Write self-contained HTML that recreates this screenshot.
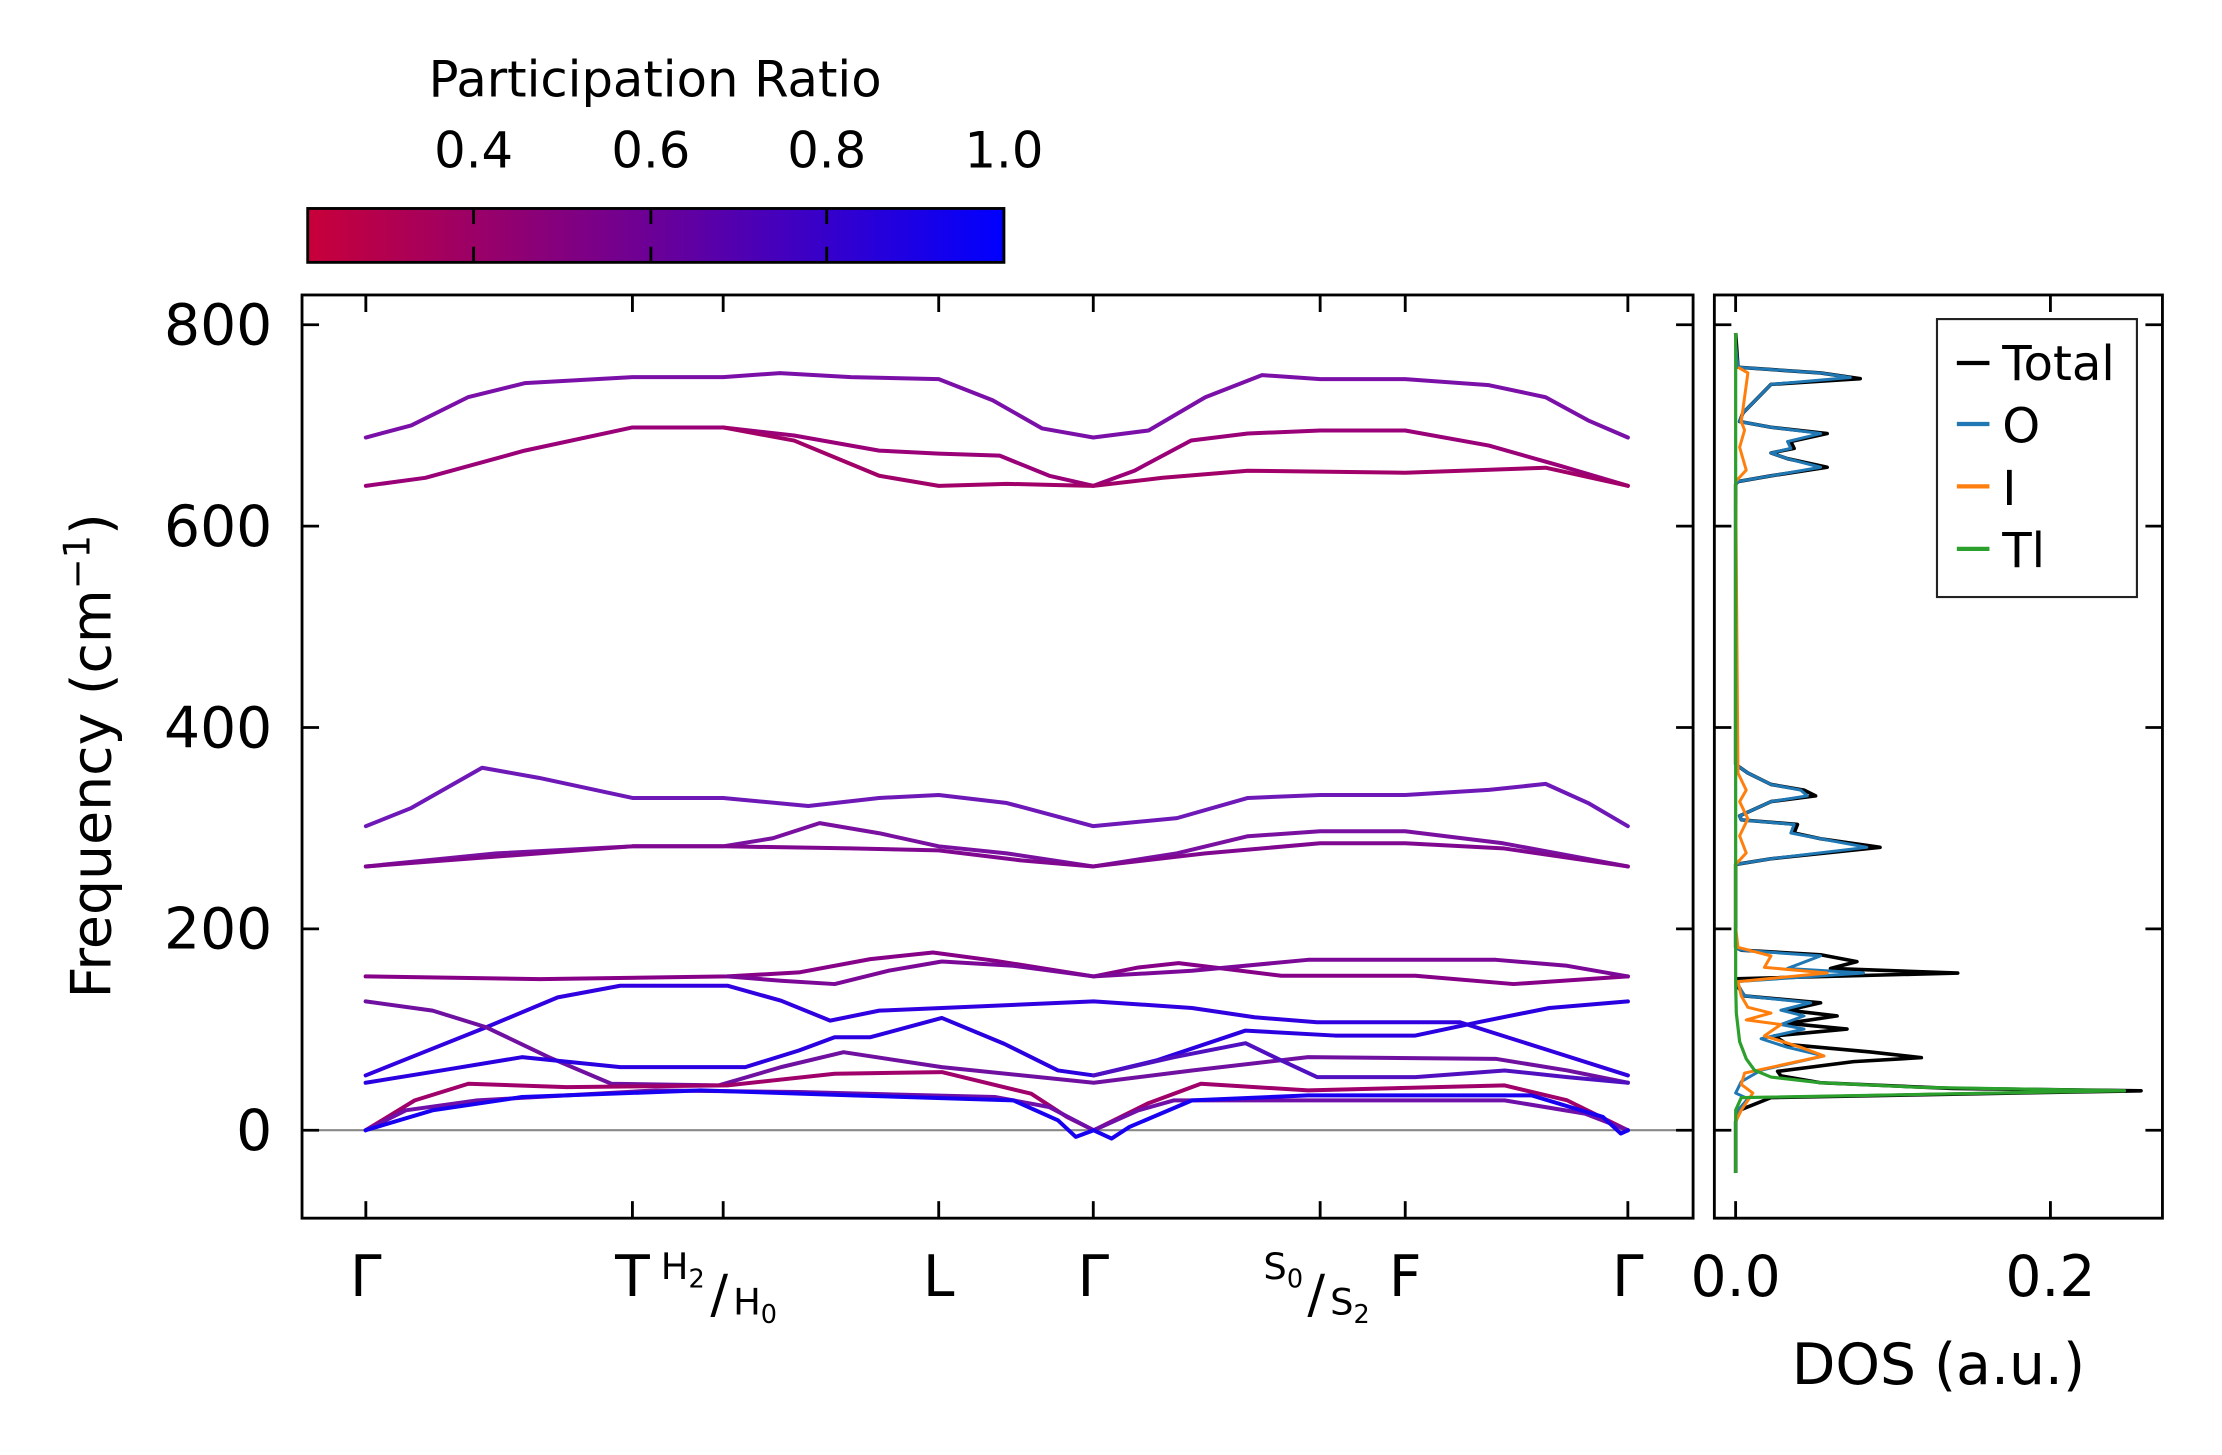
<!DOCTYPE html>
<html><head><meta charset="utf-8"><style>
html,body{margin:0;padding:0;background:#fff;}
svg{display:block;}
text{font-family:"DejaVu Sans","Liberation Sans",sans-serif;fill:#000;}
</style></head><body>
<svg width="2222" height="1455" viewBox="0 0 1567 1026" preserveAspectRatio="none" xmlns="http://www.w3.org/2000/svg">
<defs>
<linearGradient id="cb" x1="0" x2="1" y1="0" y2="0">
<stop offset="0" stop-color="#c8003a"/><stop offset="0.5" stop-color="#6a0098"/><stop offset="1" stop-color="#0000ff"/>
</linearGradient>
</defs>
<rect width="1567" height="1026" fill="#fff"/>

<!-- colorbar -->
<text x="462" y="68" font-size="35" text-anchor="middle">Participation Ratio</text>
<g font-size="35" text-anchor="middle">
<text x="334" y="118">0.4</text><text x="459" y="118">0.6</text><text x="583" y="118">0.8</text><text x="708" y="118">1.0</text>
</g>
<rect x="217" y="147" width="491" height="38" fill="url(#cb)" stroke="#000" stroke-width="2"/>
<g stroke="#000" stroke-width="2"><line x1="334" y1="147" x2="334" y2="158"/><line x1="334" y1="174" x2="334" y2="185"/>
<line x1="459" y1="147" x2="459" y2="158"/><line x1="459" y1="174" x2="459" y2="185"/>
<line x1="583" y1="147" x2="583" y2="158"/><line x1="583" y1="174" x2="583" y2="185"/></g>

<!-- main axes -->
<line x1="213" y1="797" x2="1194" y2="797" stroke="#888" stroke-width="1.5"/>
<g fill="none" stroke-width="4" stroke-linejoin="round" stroke-linecap="round">
<g transform="matrix(1 0 0 -0.71 0 797)">
<polyline vector-effect="non-scaling-stroke" stroke="#7a10a8" points="258,688 290,700 330,728 370,742 446,748 510,748 550,752 600,748 662,746 700,725 735,697 771,688 810,695 850,728 890,750 931,746 991,746 1050,740 1090,728 1120,705 1148,688"/>
<polyline vector-effect="non-scaling-stroke" stroke="#9a0078" points="258,640 300,648 370,675 446,698 510,698 560,690 620,675 662,672 705,670 740,650 771,640 800,655 840,685 880,692 931,695 991,695 1050,680 1100,660 1148,640"/>
<polyline vector-effect="non-scaling-stroke" stroke="#a00068" points="510,698 560,685 620,650 662,640 710,642 740,641 771,640 820,648 880,655 991,653 1090,658 1148,640"/>
<polyline vector-effect="non-scaling-stroke" stroke="#6e18b8" points="258,302 290,320 340,360 380,350 446,330 510,330 570,322 620,330 662,333 710,325 771,302 830,310 880,330 931,333 991,333 1050,338 1090,344 1120,325 1148,302"/>
<polyline vector-effect="non-scaling-stroke" stroke="#7a10a0" points="258,262 350,275 446,282 510,282 545,290 578,305 620,295 662,282 710,275 771,262 830,275 880,292 931,297 991,297 1060,285 1148,262"/>
<polyline vector-effect="non-scaling-stroke" stroke="#800890" points="258,262 446,282 510,282 600,280 662,278 720,268 771,262 850,275 931,285 991,285 1060,280 1148,262"/>
</g>
<g transform="matrix(0.63 0 0 0.2343 210.6 649.4)">
<polyline vector-effect="non-scaling-stroke" stroke="#860088" points="75,167 270,175 480,167 560,155 640,115 710,95 780,120 890,167 940,140 985,127 1040,145 1100,165 1250,165 1360,190 1488,167"/>
<polyline vector-effect="non-scaling-stroke" stroke="#7c0898" points="480,167 540,180 600,190 660,150 720,122 800,135 890,167 1000,150 1130,117 1340,117 1420,135 1488,167"/>
<polyline vector-effect="non-scaling-stroke" stroke="#3000e0" points="75,465 140,395 210,320 290,230 360,195 480,195 540,240 595,300 650,270 720,262 890,242 1000,262 1070,290 1140,305 1300,305 1400,390 1488,465"/>
<polyline vector-effect="non-scaling-stroke" stroke="#7010a0" points="75,242 150,270 210,320 280,410 350,490 470,495 540,440 610,395 720,440 890,487 1000,450 1130,410 1340,415 1420,450 1488,487"/>
<polyline vector-effect="non-scaling-stroke" stroke="#2a00e0" points="75,487 160,450 250,410 360,440 500,440 560,390 600,350 640,350 720,292 790,370 850,450 890,465 960,420 1060,330 1160,345 1250,345 1320,305 1400,262 1488,242"/>
<polyline vector-effect="non-scaling-stroke" stroke="#5010c0" points="890,465 980,410 1060,368 1100,420 1140,470 1250,470 1350,450 1420,470 1488,487"/>
<polyline vector-effect="non-scaling-stroke" stroke="#a0006a" points="75,630 130,540 190,490 300,500 480,495 600,460 720,455 820,520 860,590 890,630 950,550 1010,490 1130,510 1350,495 1420,540 1488,630"/>
<polyline vector-effect="non-scaling-stroke" stroke="#7010a8" points="75,630 120,570 200,540 400,510 560,515 780,530 840,560 890,630 940,570 980,540 1130,540 1350,540 1440,580 1488,630"/>
<polyline vector-effect="non-scaling-stroke" stroke="#1800f0" points="75,630 150,570 250,530 450,510 620,525 800,540 850,600 870,650 890,630 910,655 930,620 1000,540 1130,525 1380,525 1460,590 1480,640 1488,630"/>
</g>
</g>
<rect x="213" y="208" width="981" height="651" fill="none" stroke="#000" stroke-width="2"/>
<g stroke="#000" stroke-width="2">
<line x1="213" y1="229" x2="225" y2="229"/><line x1="213" y1="371" x2="225" y2="371"/><line x1="213" y1="513" x2="225" y2="513"/><line x1="213" y1="655" x2="225" y2="655"/><line x1="213" y1="797" x2="225" y2="797"/>
<line x1="1182" y1="229" x2="1194" y2="229"/><line x1="1182" y1="371" x2="1194" y2="371"/><line x1="1182" y1="513" x2="1194" y2="513"/><line x1="1182" y1="655" x2="1194" y2="655"/><line x1="1182" y1="797" x2="1194" y2="797"/>
<line x1="258" y1="208" x2="258" y2="220"/><line x1="446" y1="208" x2="446" y2="220"/><line x1="510" y1="208" x2="510" y2="220"/><line x1="662" y1="208" x2="662" y2="220"/><line x1="771" y1="208" x2="771" y2="220"/><line x1="931" y1="208" x2="931" y2="220"/><line x1="991" y1="208" x2="991" y2="220"/><line x1="1148" y1="208" x2="1148" y2="220"/>
<line x1="258" y1="847" x2="258" y2="859"/><line x1="446" y1="847" x2="446" y2="859"/><line x1="510" y1="847" x2="510" y2="859"/><line x1="662" y1="847" x2="662" y2="859"/><line x1="771" y1="847" x2="771" y2="859"/><line x1="931" y1="847" x2="931" y2="859"/><line x1="991" y1="847" x2="991" y2="859"/><line x1="1148" y1="847" x2="1148" y2="859"/>
</g>
<g font-size="40" text-anchor="end">
<text x="192" y="243">800</text><text x="192" y="385">600</text><text x="192" y="527">400</text><text x="192" y="669">200</text><text x="192" y="811">0</text>
</g>
<text transform="translate(78,533) rotate(-90)" font-size="39" text-anchor="middle">Frequency (cm<tspan font-size="26" dy="-15">−1</tspan><tspan dy="15">)</tspan></text>
<g font-size="40" text-anchor="middle">
<text x="258" y="914">Γ</text><text x="446" y="914">T</text><text x="662" y="914">L</text><text x="771" y="914">Γ</text><text x="991" y="914">F</text><text x="1148" y="914">Γ</text>
</g>
<g font-size="26">
<text x="466" y="902">H<tspan font-size="18" dy="6">2</tspan></text>
<text x="501" y="925" font-size="37">/</text>
<text x="517" y="927">H<tspan font-size="18" dy="6">0</tspan></text>
<text x="891" y="902">S<tspan font-size="18" dy="6">0</tspan></text>
<text x="922" y="925" font-size="37">/</text>
<text x="938" y="927">S<tspan font-size="18" dy="6">2</tspan></text>
</g>

<!-- DOS -->
<g fill="none" stroke-width="3" stroke-linejoin="round" transform="matrix(0.233 0 0 0.403 1214 210.6)">
<polyline vector-effect="non-scaling-stroke" stroke="#000" stroke-width="3.6" points="43,1530 43,1440 55,1420 150,1398 700,1392 1270,1386 700,1382 300,1372 180,1360 170,1352 400,1335 605,1328 450,1318 200,1305 160,1290 380,1278 200,1268 350,1255 200,1245 300,1232 70,1220 45,1200 45,1190 715,1180 330,1172 410,1160 300,1148 60,1140 43,1135 43,990 150,980 480,960 300,945 220,935 230,920 60,912 55,905 150,880 285,870 250,860 150,850 80,830 43,815 43,325 50,320 150,310 320,295 200,280 150,270 220,262 210,250 320,236 150,225 55,215 65,200 150,150 420,140 300,130 50,120 43,60"/>
<polyline vector-effect="non-scaling-stroke" stroke="#1f77b4" points="43,1440 50,1420 80,1400 43,1390 60,1370 120,1350 310,1325 200,1310 120,1295 250,1278 180,1270 250,1255 180,1245 270,1232 70,1220 45,1195 430,1180 200,1172 300,1150 60,1140 43,1135 43,990 150,980 440,960 300,945 210,935 220,920 60,912 55,905 150,880 260,870 240,860 150,850 80,830 43,815 43,325 50,320 150,310 300,295 200,280 150,270 210,262 200,250 300,236 150,225 55,215 65,200 150,150 390,138 300,130 50,120 43,80"/>
<polyline vector-effect="non-scaling-stroke" stroke="#ff7f0e" points="43,1440 60,1420 95,1390 60,1375 70,1355 310,1325 240,1310 130,1290 180,1270 75,1262 150,1250 80,1240 60,1220 50,1195 320,1180 130,1170 150,1150 50,1135 43,1100 43,990 75,970 55,940 80,910 55,880 75,860 50,830 43,320 75,300 55,260 70,230 60,215 80,130 50,120"/>
<polyline vector-effect="non-scaling-stroke" stroke="#2ca02c" stroke-width="3.2" points="43,1530 43,1420 60,1398 1220,1386 600,1380 300,1372 150,1362 100,1350 75,1330 55,1300 45,1250 43,1200 43,60"/>
</g>
<rect x="1209" y="208" width="316" height="651" fill="none" stroke="#000" stroke-width="2"/>
<g stroke="#000" stroke-width="2">
<line x1="1209" y1="229" x2="1221" y2="229"/><line x1="1209" y1="371" x2="1221" y2="371"/><line x1="1209" y1="513" x2="1221" y2="513"/><line x1="1209" y1="655" x2="1221" y2="655"/><line x1="1209" y1="797" x2="1221" y2="797"/>
<line x1="1513" y1="229" x2="1525" y2="229"/><line x1="1513" y1="371" x2="1525" y2="371"/><line x1="1513" y1="513" x2="1525" y2="513"/><line x1="1513" y1="655" x2="1525" y2="655"/><line x1="1513" y1="797" x2="1525" y2="797"/>
<line x1="1224" y1="208" x2="1224" y2="220"/><line x1="1446" y1="208" x2="1446" y2="220"/>
<line x1="1224" y1="847" x2="1224" y2="859"/><line x1="1446" y1="847" x2="1446" y2="859"/>
</g>
<g font-size="40" text-anchor="middle"><text x="1224" y="914">0.0</text><text x="1446" y="914">0.2</text></g>
<text x="1367" y="976" font-size="40" text-anchor="middle">DOS (a.u.)</text>
<!-- legend -->
<rect x="1366" y="225" width="141" height="196" fill="#fff" stroke="#222" stroke-width="1.5"/>
<g stroke-width="3">
<line x1="1380" y1="256" x2="1403" y2="256" stroke="#000"/>
<line x1="1380" y1="299" x2="1403" y2="299" stroke="#1f77b4"/>
<line x1="1380" y1="343" x2="1403" y2="343" stroke="#ff7f0e"/>
<line x1="1380" y1="387" x2="1403" y2="387" stroke="#2ca02c"/>
</g>
<g font-size="34"><text x="1412" y="268">Total</text><text x="1412" y="312">O</text><text x="1412" y="356">I</text><text x="1412" y="400">Tl</text></g>
</svg>
</body></html>
